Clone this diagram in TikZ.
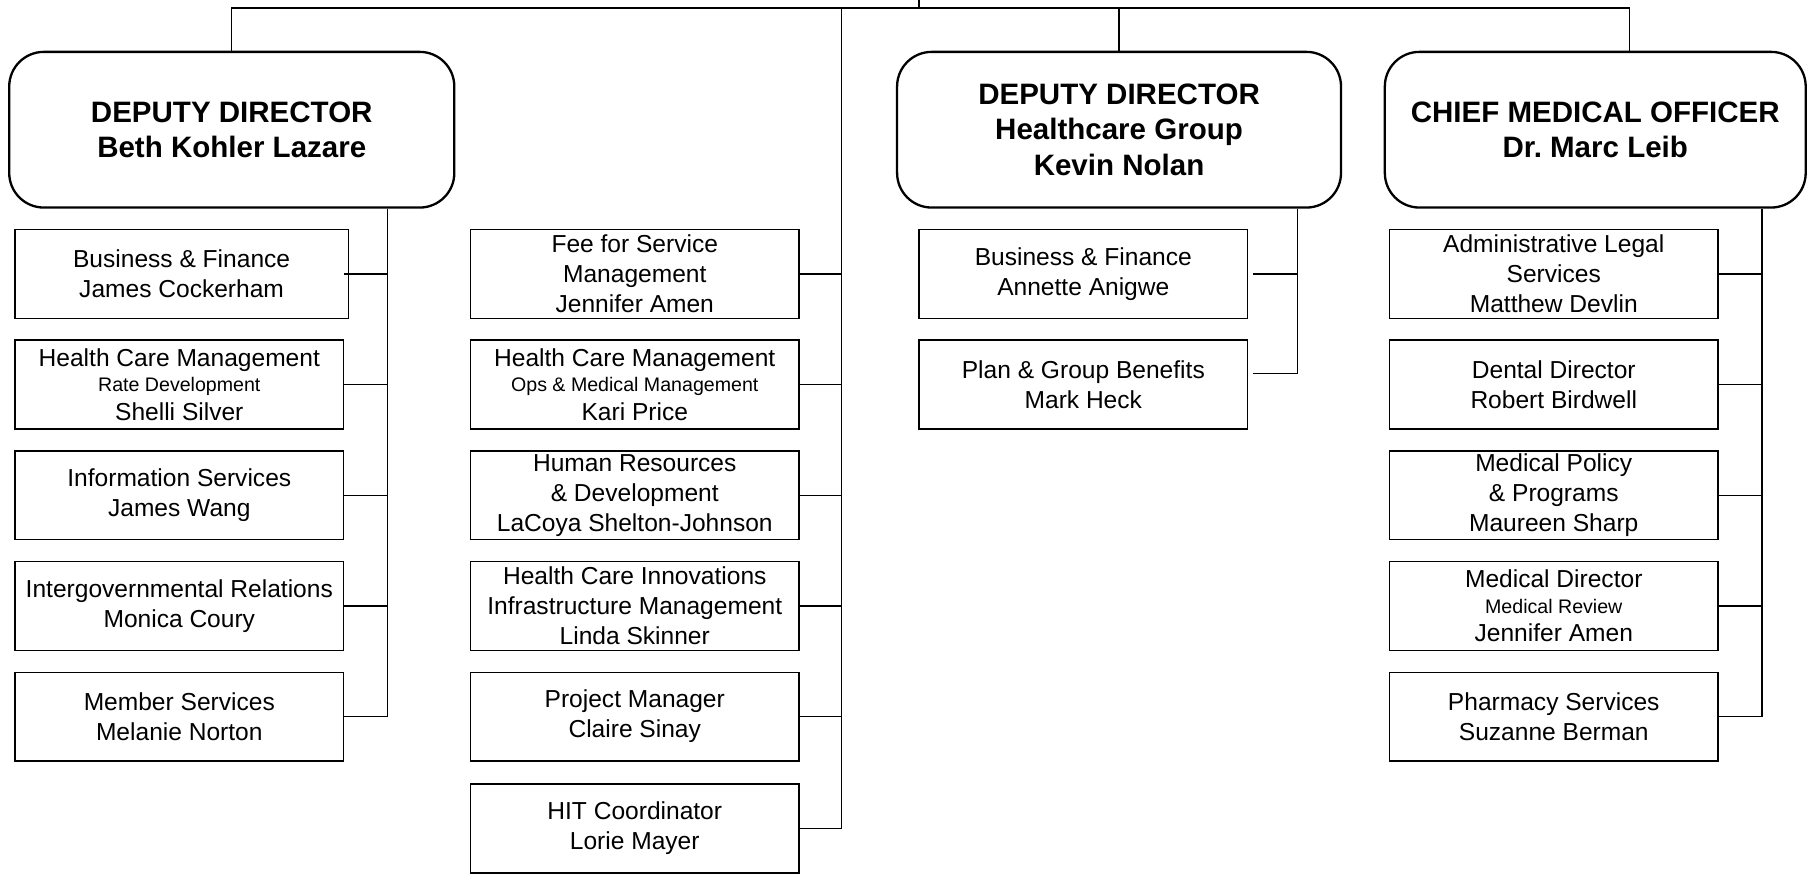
\documentclass[tikz,border=0pt]{standalone}
\usepackage{fontspec}
\setmainfont{Liberation Sans}
\frenchspacing
\newcommand{\subline}[1]{{\fontsize{17}{20}\selectfont #1}}
\begin{document}
\begin{tikzpicture}[x=1pt,y=-1pt,
  bigbox/.style={draw, line width=2pt, rounded corners=30pt, minimum width=386pt,
    minimum height=135pt, inner sep=0pt, align=center,
    font=\fontsize{25.6}{30.5}\selectfont\bfseries},
  unitbox/.style={draw, line width=1.2pt, minimum width=285pt, minimum height=77pt,
    inner sep=0pt, align=center, font=\fontsize{21.3}{26}\selectfont},
  link/.style={line width=1.2pt}]
\useasboundingbox (0,0) rectangle (1568,759);

% top-level boxes
\node[bigbox] (dd1) at (201,112.5) {DEPUTY DIRECTOR\\Beth Kohler Lazare};
\node[bigbox, minimum width=385pt] (dd2) at (970.5,112.5) {DEPUTY DIRECTOR\\Healthcare Group\\Kevin Nolan};
\node[bigbox, minimum width=365pt] (cmo) at (1383.5,112.5) {CHIEF MEDICAL OFFICER\\Dr.\ Marc Leib};

% left column
\node[unitbox, minimum width=289pt] (l1) at (157.5,237.5) {Business \& Finance\\James Cockerham};
\node[unitbox] (l2) at (155.5,333.5) {Health Care Management\\[-4pt]\subline{Rate Development}\\[-1.5pt]Shelli Silver};
\node[unitbox] (l3) at (155.5,429.5) {Information Services\\James Wang};
\node[unitbox] (l4) at (155.5,525.5) {Intergovernmental Relations\\Monica Coury};
\node[unitbox] (l5) at (155.5,621.5) {Member Services\\Melanie Norton};

% middle column
\node[unitbox] (m1) at (550.5,237.5) {Fee for Service\\Management\\Jennifer Amen};
\node[unitbox] (m2) at (550.5,333.5) {Health Care Management\\[-4pt]\subline{Ops \& Medical Management}\\[-1.5pt]Kari Price};
\node[unitbox] (m3) at (550.5,429.5) {Human Resources\\\& Development\\LaCoya Shelton-Johnson};
\node[unitbox] (m4) at (550.5,525.5) {Health Care Innovations\\Infrastructure Management\\Linda Skinner};
\node[unitbox] (m5) at (550.5,621.5) {Project Manager\\Claire Sinay};
\node[unitbox] (m6) at (550.5,718.5) {HIT Coordinator\\Lorie Mayer};

% healthcare group column
\node[unitbox] (k1) at (939.5,237.5) {Business \& Finance\\Annette Anigwe};
\node[unitbox] (k2) at (939.5,333.5) {Plan \& Group Benefits\\Mark Heck};

% chief medical officer column
\node[unitbox] (c1) at (1347.5,237.5) {Administrative Legal\\Services\\Matthew Devlin};
\node[unitbox] (c2) at (1347.5,333.5) {Dental Director\\Robert Birdwell};
\node[unitbox] (c3) at (1347.5,429.5) {Medical Policy\\\& Programs\\Maureen Sharp};
\node[unitbox] (c4) at (1347.5,525.5) {Medical Director\\[-4pt]\subline{Medical Review}\\[-1.5pt]Jennifer Amen};
\node[unitbox] (c5) at (1347.5,621.5) {Pharmacy Services\\Suzanne Berman};

% junction coordinates
\coordinate (root) at (797,0);
\coordinate (bar) at (797,7);
\coordinate (cmoin) at (1413,7);
\coordinate (mspine) at (730,7);
\coordinate (lspine) at (336,0);
\coordinate (kspine) at (1125,0);
\coordinate (cspine) at (1528,0);

% top bar
\draw[link] (root) -- (bar);
\draw[link] (dd1.north) -- (dd1.north |- bar) -- (cmoin) -- (cmoin |- cmo.north);
\draw[link] (dd2.north) -- (dd2.north |- bar);

% left spine
\draw[link] (dd1.south -| lspine) -- (l5.east -| lspine) -- (l5.east);
\draw[link] ([xshift=-4pt]l1.east) -- (l1.east -| lspine);
\foreach \n in {l2,l3,l4}
  \draw[link] (\n.east) -- (\n.east -| lspine);

% middle spine
\draw[link] (mspine) -- (mspine |- m6.east) -- (m6.east);
\foreach \n in {m1,m2,m3,m4,m5}
  \draw[link] (\n.east) -- (\n.east -| mspine);

% healthcare group spine
\draw[link] (dd2.south -| kspine) -- ([yshift=9.5pt]k2.east -| kspine) -- ([xshift=4pt,yshift=9.5pt]k2.east);
\draw[link] ([xshift=4pt]k1.east) -- (k1.east -| kspine);

% chief medical officer spine
\draw[link] (cmo.south -| cspine) -- (c5.east -| cspine) -- (c5.east);
\foreach \n in {c1,c2,c3,c4}
  \draw[link] (\n.east) -- (\n.east -| cspine);
\end{tikzpicture}
\end{document}
